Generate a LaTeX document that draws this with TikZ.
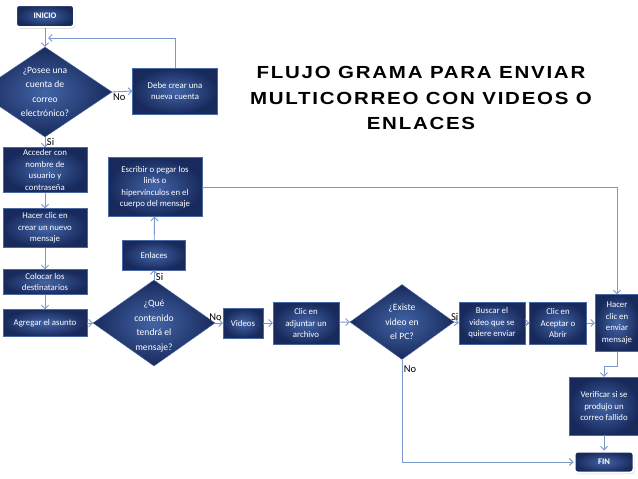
\documentclass[tikz,border=0pt]{standalone}
\usepackage{fontspec}
\setmainfont{Carlito}
\newfontfamily\titlefont[FakeStretch=1.17,LetterSpace=10]{Liberation Sans}
\usetikzlibrary{shapes.geometric,arrows.meta,shadows}
\definecolor{navy}{RGB}{24,42,92}
\definecolor{midblue}{RGB}{66,100,166}
\definecolor{edgeblue}{RGB}{72,104,164}
\definecolor{linkblue}{RGB}{122,152,202}

\begin{document}
\begin{tikzpicture}[x=1pt,y=-1pt,
    proc/.style={rectangle,draw=edgeblue,inner color=midblue,outer color=navy,
      text=white,align=center,font=\fontsize{8.8}{11.5}\selectfont,inner sep=1pt},
    terminal/.style={proc,rounded corners=3pt,draw=white,line width=2pt,
      drop shadow={opacity=0.35,shadow xshift=1pt,shadow yshift=-1.5pt},
      font=\fontsize{8.5}{10}\selectfont\bfseries},
    decision/.style={diamond,draw=edgeblue,inner color=midblue,outer color=navy,inner sep=0pt},
    dtext/.style={text=white,align=center,font=\fontsize{9.6}{14.5}\selectfont},
    conn/.style={draw=linkblue,line width=0.9pt,-{Straight Barb[length=3.5pt,width=7pt]}},
    lbl/.style={text=black,font=\fontsize{10.5}{11}\selectfont,inner sep=1.5pt}]
  \clip (0,0) rectangle (638,479);
  \fill[white] (0,0) rectangle (638,479);

  \node (titulo) at (421,98) [align=center,font=\titlefont\bfseries\fontsize{17.5}{25.5}\selectfont]
    {FLUJO GRAMA PARA ENVIAR\\MULTICORREO CON VIDEOS O\\ENLACES};

  \node (inicio) at (45,16) [terminal,minimum width=58pt,minimum height=22pt] {INICIO};
  \node (q1) at (45,92) [decision,minimum width=134pt,minimum height=90pt,
    label={[dtext]center:{¿Posee una\\cuenta de\\correo\\electrónico?}}] {};
  \node (crear) at (175,91) [proc,minimum width=85pt,minimum height=46pt] {Debe crear una\\nueva cuenta};
  \node (acceder) at (45,170) [proc,minimum width=84pt,minimum height=45pt] {Acceder con\\nombre de\\usuario y\\contraseña};
  \node (hacer) at (45,228) [proc,minimum width=84pt,minimum height=39pt] {Hacer clic en\\crear un nuevo\\mensaje};
  \node (colocar) at (45,282) [proc,minimum width=84pt,minimum height=25pt] {Colocar los\\destinatarios};
  \node (agregar) at (45,323) [proc,minimum width=84pt,minimum height=27pt] {Agregar el asunto};
  \node (q2) at (154,323) [decision,minimum width=122pt,minimum height=86pt,
    label={[dtext,yshift=-3pt]center:{¿Qué\\contenido\\tendrá el\\mensaje?}}] {};
  \node (enlaces) at (154,255) [proc,minimum width=63pt,minimum height=30pt] {Enlaces};
  \node (escribir) at (155,187) [proc,minimum width=94pt,minimum height=59pt] {Escribir o pegar los\\links o\\hipervínculos en el\\cuerpo del mensaje};
  \node (videos) at (243,323) [proc,minimum width=40pt,minimum height=30pt] {Videos};
  \node (adjuntar) at (306,323) [proc,minimum width=66pt,minimum height=42pt] {Clic en\\adjuntar un\\archivo};
  \node (q3) at (402,322) [decision,minimum width=104pt,minimum height=75pt,
    label={[dtext]center:{¿Existe\\video en\\el PC?}}] {};
  \node (buscar) at (492,323) [proc,minimum width=66pt,minimum height=42pt] {Buscar el\\video que se\\quiere enviar};
  \node (aceptar) at (558,323) [proc,minimum width=57pt,minimum height=42pt] {Clic en\\Aceptar o\\Abrir};
  \node (enviar) at (617,323) [proc,minimum width=44pt,minimum height=57pt] {Hacer\\clic en\\enviar\\mensaje};
  \node (verificar) at (604,406) [proc,minimum width=70pt,minimum height=58pt] {Verificar si se\\produjo un\\correo fallido};
  \node (fin) at (604,462) [terminal,minimum width=59pt,minimum height=21pt] {FIN};
  \coordinate (retorno) at (48,38);

  \draw[conn] (inicio) -- (q1.north);
  \draw[conn] (q1.east) -- node[lbl,below,pos=0.35] {No} (crear.west);
  \draw[conn] (crear.north) |- (retorno);
  \draw[conn] (q1.south) -- node[lbl,right,pos=0.45] {Si} (acceder.north);
  \draw[conn] (acceder) -- (hacer);
  \draw[conn] (hacer) -- (colocar);
  \draw[conn] (colocar) -- (agregar);
  \draw[conn] (agregar) -- (q2.west);
  \draw[conn] (q2.north) -- node[lbl,right,pos=0.3] {Si} (enlaces.south);
  \draw[conn] (enlaces) -- (escribir);
  \draw[conn] (escribir.east) -| (enviar.north);
  \draw[conn] (q2.east) -- node[lbl,above,pos=0.05] {No} (videos.west);
  \draw[conn] (videos) -- (adjuntar);
  \draw[conn] (adjuntar) -- (q3.west);
  \draw[conn] (q3.east) -- node[lbl,above,pos=0.1] {Si} (buscar.west);
  \draw[conn] (buscar) -- (aceptar);
  \draw[conn] (aceptar) -- (enviar);
  \draw[conn] (enviar.south) -- ++(0,15) -| (verificar.north);
  \draw[conn] (verificar) -- (fin);
  \draw[conn] (q3.south) |- node[lbl,below right,pos=0.02] {No} (fin.west);
\end{tikzpicture}
\end{document}
